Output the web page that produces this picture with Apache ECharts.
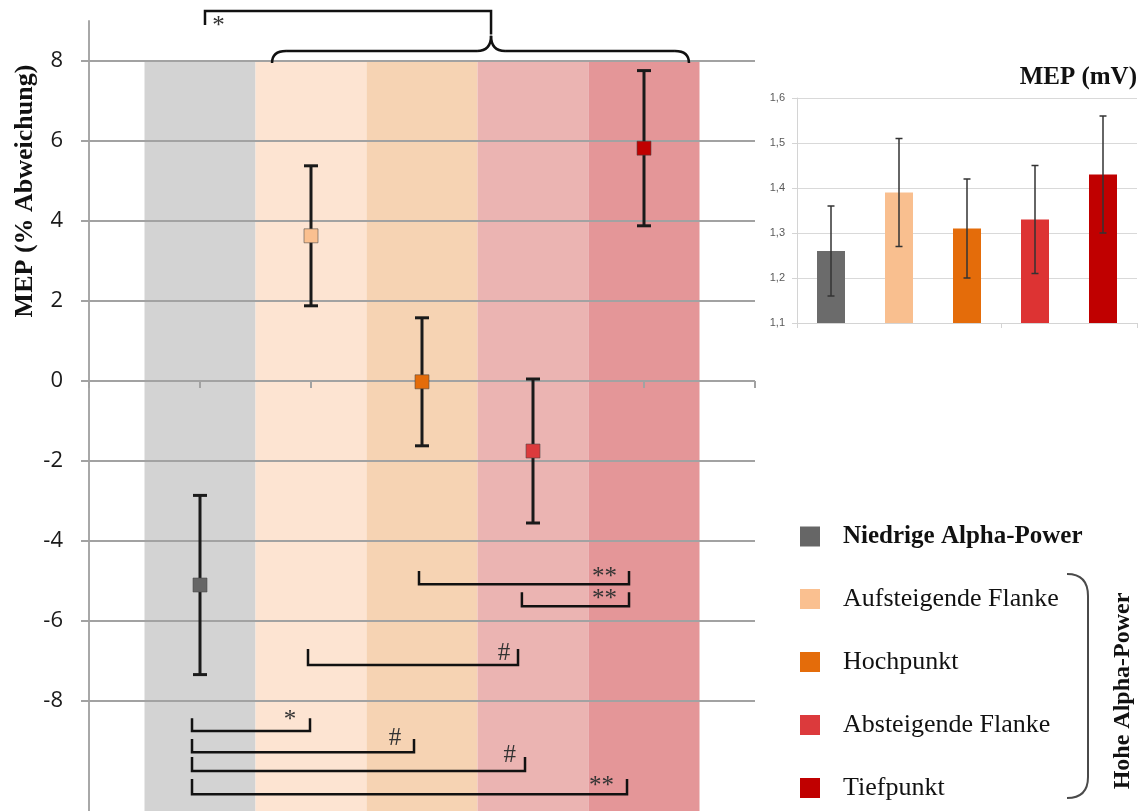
<!DOCTYPE html>
<html>
<head>
<meta charset="utf-8">
<script src="https://cdn.jsdelivr.net/npm/echarts@6/dist/echarts.min.js"></script>
<style>
  html, body { margin: 0; padding: 0; background: #ffffff; }
  #main { width: 1143px; height: 811px; }
</style>
</head>
<body>
<div id="main"></div>
<script>
// Phase categories of the alpha rhythm
const categories = ['Niedrige Alpha-Power', 'Aufsteigende Flanke', 'Hochpunkt', 'Absteigende Flanke', 'Tiefpunkt'];

// MEP change relative to the mean (%), with error bar half-widths
const mepChange = [-5.1, 3.63, -0.02, -1.75, 5.82];
const mepChangeErr = [2.24, 1.75, 1.6, 1.8, 1.94];

// Absolute MEP amplitudes (mV), with error bar half-widths
const mepMv = [1.26, 1.39, 1.31, 1.33, 1.43];
const mepMvErr = [0.10, 0.12, 0.11, 0.12, 0.13];

// Axis ticks
const changeTicks = [-8, -6, -4, -2, 0, 2, 4, 6, 8];
const mvTicks = [1.1, 1.2, 1.3, 1.4, 1.5, 1.6];

// Plot range of the main panel (% change); labelled ticks cover only -8..8
const changeRange = [-10.75, 9];

// Significance brackets under the points (x in category units, y in % change)
const lowerBrackets = [
  { x1: 1.973, x2: 3.865, top: -4.75, bottom: -5.08, mark: '**', lx: 3.644, ly: -4.81 },
  { x1: 2.90,  x2: 3.865, top: -5.28, bottom: -5.63, mark: '**', lx: 3.644, ly: -5.35 },
  { x1: 0.973, x2: 2.865, top: -6.70, bottom: -7.10, mark: '#',  lx: 2.739, ly: -6.79 },
  { x1: -0.072, x2: 0.991, top: -8.43, bottom: -8.75, mark: '*',  lx: 0.811, ly: -8.375 },
  { x1: -0.072, x2: 1.928, top: -8.95, bottom: -9.28, mark: '#',  lx: 1.757, ly: -8.91 },
  { x1: -0.072, x2: 2.928, top: -9.40, bottom: -9.75, mark: '#',  lx: 2.79,  ly: -9.34 },
  { x1: -0.072, x2: 3.847, top: -9.95, bottom: -10.33, mark: '**', lx: 3.617, ly: -10.03 }
];

// Bracket above the chart: low power vs. the whole high-power group
const upperBracket = { x1: 0.045, x2: 2.622, top: 9.25, leftEnd: 8.9, rightEnd: 8.66, mark: '*', lx: 0.167, ly: 8.975 };
// Curly brace spanning the four high-power phases
const groupBrace = { left: 0.649, tip: 2.622, right: 4.405, ends: 7.95, line: 8.25, tipY: 8.63 };

// Styling
const pointColors = ['#666666', '#fac090', '#e46c0a', '#dc3a3c', '#c00000'];
const barColors = ['#6b6b6b', '#f9bf8f', '#e46c0a', '#dd3333', '#c00000'];
const bandColors = ['#d3d3d3', '#fde4d2', '#f6d3b3', '#ebb4b2', '#e49698'];
const serif = '"Liberation Serif", "Times New Roman", serif';
const gridGray = '#a2a2a2';

const chart = echarts.init(document.getElementById('main'), null, { renderer: 'canvas' });

// background bands for each phase
function bandItem(params, api) {
  const i = api.value(0);
  const tl = api.coord([i - 0.5, 8]);
  const br = api.coord([i + 0.5, changeRange[0]]);
  return {
    type: 'rect',
    shape: { x: tl[0], y: tl[1], width: br[0] - tl[0], height: br[1] - tl[1] },
    style: { fill: bandColors[params.dataIndex] }
  };
}

// vertical error bar with caps
function errorItem(capHalf, color, width) {
  return function (params, api) {
    const x = api.value(0);
    const lo = api.coord([x, api.value(1)]);
    const hi = api.coord([x, api.value(2)]);
    const st = { stroke: color, lineWidth: width };
    return {
      type: 'group',
      children: [
        { type: 'line', shape: { x1: lo[0], y1: lo[1], x2: hi[0], y2: hi[1] }, style: st },
        { type: 'line', shape: { x1: lo[0] - capHalf, y1: lo[1], x2: lo[0] + capHalf, y2: lo[1] }, style: st },
        { type: 'line', shape: { x1: hi[0] - capHalf, y1: hi[1], x2: hi[0] + capHalf, y2: hi[1] }, style: st }
      ]
    };
  };
}

function markText(x, y, text) {
  return {
    type: 'text', x: x, y: y,
    style: { text: text, font: '25px ' + serif, fill: '#333333', align: 'center', verticalAlign: 'middle' }
  };
}

function lowerBracketItem(params, api) {
  const b = lowerBrackets[params.dataIndex];
  const p1 = api.coord([b.x1, b.top]);
  const p2 = api.coord([b.x1, b.bottom]);
  const p3 = api.coord([b.x2, b.bottom]);
  const p4 = api.coord([b.x2, b.top]);
  const l = api.coord([b.lx, b.ly]);
  return {
    type: 'group',
    children: [
      { type: 'polyline', shape: { points: [p1, p2, p3, p4] }, style: { stroke: '#111111', lineWidth: 2.5, fill: null } },
      markText(l[0], l[1] + (b.mark === '#' ? 1 : 4), b.mark)
    ]
  };
}

function upperItem(params, api) {
  const u = upperBracket;
  const a = api.coord([u.x1, u.leftEnd]);
  const b = api.coord([u.x1, u.top]);
  const c = api.coord([u.x2, u.top]);
  const d = api.coord([u.x2, u.rightEnd]);
  const l = api.coord([u.lx, u.ly]);
  const g = groupBrace;
  const L = api.coord([g.left, g.ends]);
  const H = api.coord([g.left, g.line]);
  const T = api.coord([g.tip, g.tipY]);
  const R = api.coord([g.right, g.ends]);
  const r = 14;
  const st = { stroke: '#111111', lineWidth: 2.5, fill: null };
  return {
    type: 'group',
    children: [
      { type: 'polyline', shape: { points: [a, b, c, d] }, style: st },
      { type: 'bezierCurve', shape: { x1: L[0], y1: L[1], cpx1: L[0], cpy1: H[1], x2: L[0] + r, y2: H[1] }, style: st },
      { type: 'line', shape: { x1: L[0] + r, y1: H[1], x2: T[0] - r, y2: H[1] }, style: st },
      { type: 'bezierCurve', shape: { x1: T[0] - r, y1: H[1], cpx1: T[0], cpy1: H[1], x2: T[0], y2: T[1] }, style: st },
      { type: 'bezierCurve', shape: { x1: T[0], y1: T[1], cpx1: T[0], cpy1: H[1], x2: T[0] + r, y2: H[1] }, style: st },
      { type: 'line', shape: { x1: T[0] + r, y1: H[1], x2: R[0] - r, y2: H[1] }, style: st },
      { type: 'bezierCurve', shape: { x1: R[0] - r, y1: H[1], cpx1: R[0], cpy1: H[1], x2: R[0], y2: R[1] }, style: st },
      markText(l[0], l[1] + 4, u.mark)
    ]
  };
}

const pointSeries = categories.map(function (name, i) {
  return {
    name: name,
    type: 'scatter',
    xAxisIndex: 0, yAxisIndex: 0,
    symbol: 'rect', symbolSize: 14,
    z: 6,
    itemStyle: { color: pointColors[i], borderColor: 'rgba(70,70,70,0.55)', borderWidth: 1, opacity: 1 },
    data: [[i, mepChange[i]]]
  };
});

const bracketStyle = { stroke: '#4a4a4a', lineWidth: 2, fill: null };

const option = {
  backgroundColor: '#ffffff',
  animation: false,
  grid: [
    { left: 89, right: 388, top: 21, bottom: 0 },
    { left: 89, right: 388, top: 61, bottom: 110 },
    { left: 797, right: 6, top: 98, bottom: 488 }
  ],
  xAxis: [
    {
      gridIndex: 0, type: 'value', min: -1, max: 5, interval: 1,
      z: 3,
      axisLine: { show: false, onZero: true },
      axisTick: { show: true, length: 7, lineStyle: { color: gridGray, width: 2 } },
      axisLabel: { show: false }, splitLine: { show: false }
    },
    { gridIndex: 1, type: 'value', min: -1, max: 5, show: false },
    {
      gridIndex: 2, type: 'category', data: categories,
      axisLine: { lineStyle: { color: '#d4d4d4', width: 1 } },
      axisTick: { show: true, length: 5, lineStyle: { color: '#d4d4d4' } },
      axisLabel: { show: false }
    }
  ],
  yAxis: [
    {
      gridIndex: 0, type: 'value', min: changeRange[0], max: changeRange[1],
      axisLine: { show: true, onZero: false, lineStyle: { color: '#a8a8a8', width: 2 } },
      axisTick: { show: false }, axisLabel: { show: false }, splitLine: { show: false }
    },
    {
      gridIndex: 1, type: 'value', min: changeTicks[0], max: changeTicks[changeTicks.length - 1], interval: 2,
      z: 3,
      axisLine: { show: false, onZero: false },
      axisTick: { show: true, length: 8, lineStyle: { color: gridGray, width: 2 } },
      axisLabel: { margin: 26, color: '#1a1a1a', fontSize: 22, fontFamily: '"Open Sans", sans-serif' },
      splitLine: { show: true, lineStyle: { color: gridGray, width: 2 } }
    },
    {
      gridIndex: 2, type: 'value', min: mvTicks[0], max: mvTicks[mvTicks.length - 1], interval: 0.1,
      axisLine: { show: true, lineStyle: { color: '#d4d4d4', width: 1 } },
      axisTick: { show: true, length: 5, lineStyle: { color: '#d4d4d4' } },
      axisLabel: {
        margin: 12, color: '#595959', fontSize: 11, fontFamily: '"Liberation Sans", sans-serif',
        formatter: function (v) { return v.toFixed(1).replace('.', ','); }
      },
      splitLine: { show: true, lineStyle: { color: '#d9d9d9', width: 1 } }
    }
  ],
  legend: {
    data: categories,
    orient: 'vertical',
    left: 800, top: 524,
    padding: 0,
    icon: 'rect',
    itemWidth: 20, itemHeight: 20,
    itemGap: 37,
    selectedMode: false,
    itemStyle: { borderWidth: 0 },
    formatter: function (name) { return name === categories[0] ? '{b|' + name + '}' : name; },
    textStyle: {
      fontFamily: serif, fontSize: 26, color: '#111111', padding: [0, 0, 0, 18],
      rich: { b: { fontFamily: serif, fontSize: 25, fontWeight: 'bold', color: '#111111' } }
    }
  },
  graphic: [
    {
      type: 'text', x: 25, y: 191, rotation: Math.PI / 2,
      style: { text: 'MEP (% Abweichung)', font: 'bold 26px ' + serif, fill: '#111111', align: 'center', verticalAlign: 'middle' }
    },
    {
      type: 'text', x: 1137, y: 78,
      style: { text: 'MEP (mV)', font: 'bold 25px ' + serif, fill: '#111111', align: 'right', verticalAlign: 'middle' }
    },
    {
      type: 'text', x: 1123, y: 691, rotation: Math.PI / 2,
      style: { text: 'Hohe Alpha-Power', font: 'bold 24px ' + serif, fill: '#111111', align: 'center', verticalAlign: 'middle' }
    },
    {
      type: 'group',
      children: [
        { type: 'bezierCurve', shape: { x1: 1067, y1: 574, cpx1: 1088, cpy1: 574, x2: 1088, y2: 596 }, style: bracketStyle },
        { type: 'line', shape: { x1: 1088, y1: 596, x2: 1088, y2: 777 }, style: bracketStyle },
        { type: 'bezierCurve', shape: { x1: 1088, y1: 777, cpx1: 1088, cpy1: 798, x2: 1067, y2: 798 }, style: bracketStyle }
      ]
    }
  ],
  series: [
    {
      type: 'custom', name: 'bands', xAxisIndex: 0, yAxisIndex: 0, z: 1, silent: true,
      renderItem: bandItem,
      data: categories.map(function (c, i) { return [i]; })
    },
    {
      type: 'custom', name: 'errors', xAxisIndex: 0, yAxisIndex: 0, z: 5, silent: true,
      renderItem: errorItem(7, '#1a1a1a', 3),
      data: mepChange.map(function (v, i) { return [i, v - mepChangeErr[i], v + mepChangeErr[i]]; })
    }
  ].concat(pointSeries).concat([
    {
      type: 'custom', name: 'lowerBrackets', xAxisIndex: 0, yAxisIndex: 0, z: 7, silent: true, clip: false,
      renderItem: lowerBracketItem,
      data: lowerBrackets.map(function (b) { return [b.x1, b.top]; })
    },
    {
      type: 'custom', name: 'upperBracket', xAxisIndex: 0, yAxisIndex: 0, z: 7, silent: true, clip: false,
      renderItem: upperItem,
      data: [[upperBracket.x1, upperBracket.top]]
    },
    {
      type: 'bar', name: 'MEP (mV)', xAxisIndex: 2, yAxisIndex: 2, barWidth: 28,
      data: mepMv.map(function (v, i) { return { value: v, itemStyle: { color: barColors[i] } }; })
    },
    {
      type: 'custom', name: 'mvErrors', xAxisIndex: 2, yAxisIndex: 2, z: 5, silent: true,
      renderItem: errorItem(3.5, '#333333', 1.5),
      data: mepMv.map(function (v, i) { return [i, v - mepMvErr[i], v + mepMvErr[i]]; })
    }
  ])
};

chart.setOption(option);
</script>
</body>
</html>
